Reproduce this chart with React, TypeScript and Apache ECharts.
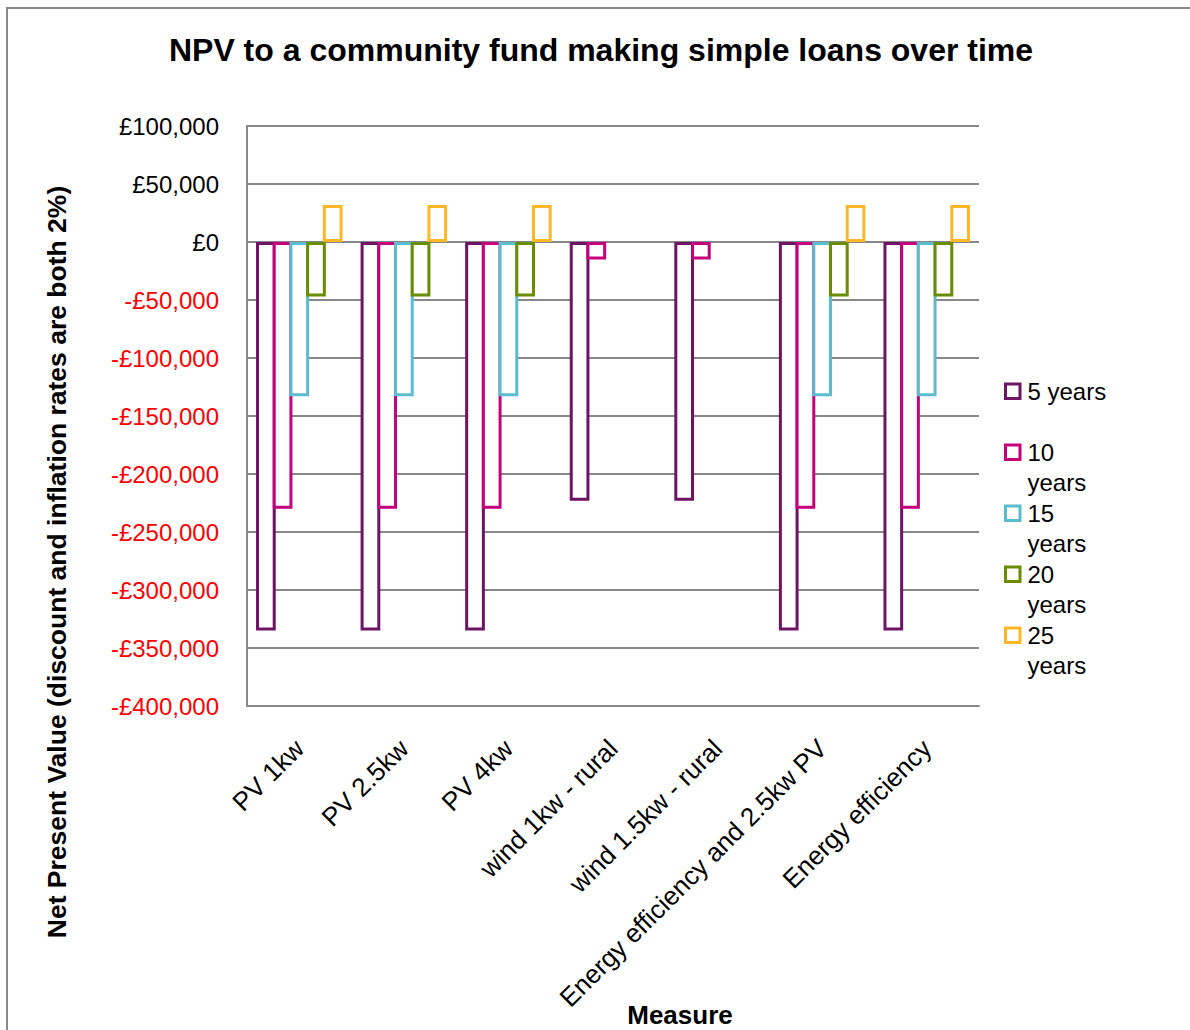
import React, { useEffect, useRef } from "react";
import * as echarts from "echarts";

const categories = [
  "PV 1kw",
  "PV 2.5kw",
  "PV 4kw",
  "wind 1kw - rural",
  "wind 1.5kw - rural",
  "Energy efficiency and 2.5kw PV",
  "Energy efficiency",
];
const seriesNames = ["5 years", "10 years", "15 years", "20 years", "25 years"];
const years5 = [-335000, -335000, -335000, -223000, -223000, -335000, -335000];
const years10 = [-230000, -230000, -230000, -15000, -15000, -230000, -230000];
const years15 = [-133000, -133000, -133000, null, null, -133000, -133000];
const years20 = [-47000, -47000, -47000, null, null, -47000, -47000];
const years25 = [32000, 32000, 32000, null, null, 32000, 32000];
const colors = ["#6E1465", "#C5007C", "#5BBCD0", "#6A8C00", "#FFB727"];

const titleText = "NPV to a community fund making simple loans over time";
const yName = "Net Present Value (discount and inflation rates are both 2%)";
const xName = "Measure";

const FONT = "'Liberation Sans', Arial, Helvetica, sans-serif";

export default function App() {
  const ref = useRef<HTMLDivElement>(null);
  useEffect(() => {
    if (!ref.current) return;
    const chart = echarts.init(ref.current, null, { renderer: "svg" });
    const allData = [years5, years10, years15, years20, years25];
    const option: any = {
      animation: false,
      backgroundColor: "#fff",
      textStyle: { fontFamily: FONT },
      grid: { left: 247, right: 211, top: 126, bottom: 324, containLabel: false },
      legend: {
        orient: "vertical",
        left: 1004,
        top: 376,
        padding: 0,
        itemWidth: 17,
        itemHeight: 58,
        itemGap: 0,
        icon: "path://M0,6.5L14.5,6.5L14.5,21L0,21Z M0,0 M17,58",
        itemStyle: { borderWidth: 3, color: "#fff" },
        textStyle: { fontSize: 24, color: "#000", lineHeight: 30.5, fontFamily: FONT },
        formatter: (name: string) =>
          name === "5 years" ? "5 years\n" : name.replace(" ", "\n"),
        data: seriesNames,
      },
      xAxis: {
        type: "category",
        data: categories,
        axisLine: { show: true, onZero: false, lineStyle: { color: "#888", width: 2 } },
        axisTick: { show: false },
        axisLabel: {
          rotate: 45,
          interval: 0,
          margin: 38,
          fontSize: 26,
          color: "#000",
          fontFamily: FONT,
        },
        splitLine: { show: false },
      },
      yAxis: {
        type: "value",
        min: -400000,
        max: 100000,
        interval: 50000,
        axisLine: { show: true, lineStyle: { color: "#888", width: 2 } },
        axisTick: { show: false },
        splitLine: { show: true, lineStyle: { color: "#888", width: 2 } },
        axisLabel: {
          margin: 28,
          fontSize: 24,
          fontFamily: FONT,
          color: (v: any) => (Number(v) < 0 ? "#FF0000" : "#000000"),
          formatter: (v: number) =>
            (v < 0 ? "-" : "") + "£" + Math.abs(v).toLocaleString("en-GB"),
        },
      },
      series: seriesNames.map((name, i) => ({
        name,
        type: "bar",
        data: allData[i],
        barWidth: 19.7,
        barGap: "-15.2%",
        itemStyle: { color: "#fff", borderColor: colors[i], borderWidth: 3 },
        emphasis: { disabled: true },
      })),
      graphic: [
        {
          type: "rect",
          silent: true,
          shape: { x: 7, y: 8, width: 1300, height: 1200 },
          style: { fill: "none", stroke: "#888", lineWidth: 2 },
          z: -10,
        },
        {
          type: "text",
          x: 601,
          y: 50,
          style: {
            text: titleText,
            font: `bold 32px ${FONT}`,
            fill: "#000",
            align: "center",
            verticalAlign: "middle",
          },
        },
        {
          type: "text",
          x: 680,
          y: 1015,
          style: {
            text: xName,
            font: `bold 26px ${FONT}`,
            fill: "#000",
            align: "center",
            verticalAlign: "middle",
          },
        },
        {
          type: "text",
          x: 57,
          y: 562,
          rotation: Math.PI / 2,
          style: {
            text: yName,
            font: `bold 26.5px ${FONT}`,
            fill: "#000",
            align: "center",
            verticalAlign: "middle",
          },
        },
      ],
    };
    chart.setOption(option);
    return () => chart.dispose();
  }, []);
  return (
    <div
      ref={ref}
      style={{ position: "absolute", left: 0, top: 0, width: 1190, height: 1030 }}
    />
  );
}
